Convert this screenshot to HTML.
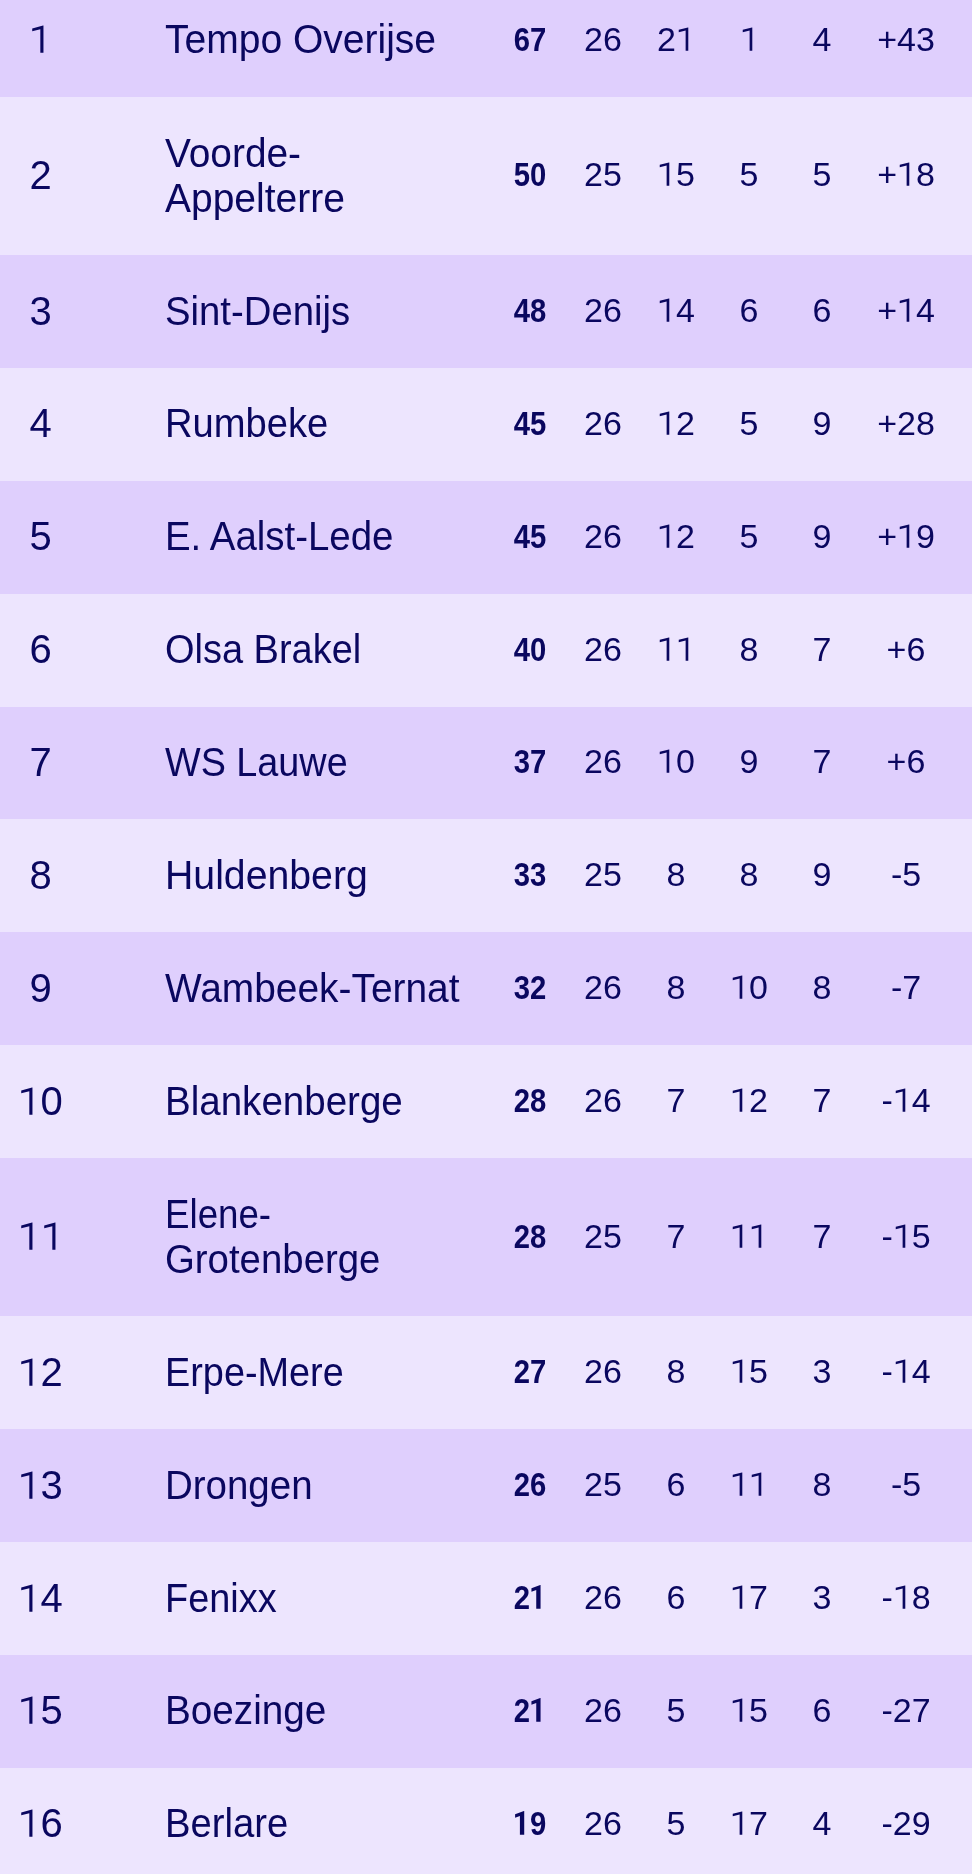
<!DOCTYPE html>
<html><head><meta charset="utf-8"><style>
html,body{margin:0;padding:0;}
body{width:972px;height:1874px;overflow:hidden;position:relative;background:#ede5fe;font-family:"Liberation Sans",sans-serif;color:#0a075f;}
.r{position:absolute;left:0;width:972px;}
.d{background:#dfcffd;}
.l{background:#ede5fe;}
.t{position:absolute;white-space:nowrap;line-height:1;}
.rk{font-size:40px;width:100px;text-align:center;}
.nm{font-size:40px;transform-origin:0 0;}
.n{font-size:34px;width:80px;text-align:center;}
.b{font-weight:bold;transform:scaleX(0.86);}
.o{position:relative;color:transparent;}
#tx{position:absolute;left:0;top:0;width:972px;height:1874px;will-change:transform;}
.os{position:absolute;left:0;top:0;width:100%;height:100%;fill:#0a075f;overflow:visible;}
</style></head><body>

<div class="r d" style="top:-15.98px;height:112.88px"></div>
<div class="r l" style="top:96.90px;height:158.20px"></div>
<div class="r d" style="top:255.10px;height:112.88px"></div>
<div class="r l" style="top:367.98px;height:112.88px"></div>
<div class="r d" style="top:480.86px;height:112.88px"></div>
<div class="r l" style="top:593.74px;height:112.88px"></div>
<div class="r d" style="top:706.62px;height:112.88px"></div>
<div class="r l" style="top:819.50px;height:112.88px"></div>
<div class="r d" style="top:932.38px;height:112.88px"></div>
<div class="r l" style="top:1045.26px;height:112.88px"></div>
<div class="r d" style="top:1158.14px;height:158.20px"></div>
<div class="r l" style="top:1316.34px;height:112.88px"></div>
<div class="r d" style="top:1429.22px;height:112.88px"></div>
<div class="r l" style="top:1542.10px;height:112.88px"></div>
<div class="r d" style="top:1654.98px;height:112.88px"></div>
<div class="r l" style="top:1767.86px;height:112.88px"></div>
<div id="tx">
<div class="t rk" style="left:-9.50px;top:19.48px"><span class="o">1<svg class="os" viewBox="0 0 1139 2288" preserveAspectRatio="none"><path d="M740,1853.4L580,1853.4L580,632.4L165,744.4L165,594.4L720,444.4L740,444.4Z"/></svg></span></div>
<div class="t nm" style="left:165.00px;top:19.48px;transform:scaleX(0.9754)">Tempo Overijse</div>
<div class="t n b" style="left:490.00px;top:21.85px;width:80px">67</div>
<div class="t n" style="left:563.00px;top:21.85px;width:80px">26</div>
<div class="t n" style="left:636.00px;top:21.85px;width:80px">2<span class="o">1<svg class="os" viewBox="0 0 1139 2288" preserveAspectRatio="none"><path d="M740,1853.4L580,1853.4L580,632.4L165,744.4L165,594.4L720,444.4L740,444.4Z"/></svg></span></div>
<div class="t n" style="left:709.00px;top:21.85px;width:80px"><span class="o">1<svg class="os" viewBox="0 0 1139 2288" preserveAspectRatio="none"><path d="M740,1853.4L580,1853.4L580,632.4L165,744.4L165,594.4L720,444.4L740,444.4Z"/></svg></span></div>
<div class="t n" style="left:782.00px;top:21.85px;width:80px">4</div>
<div class="t n" style="left:846.00px;top:21.85px;width:120px">+43</div>
<div class="t rk" style="left:-9.50px;top:155.02px">2</div>
<div class="t nm" style="left:165.00px;top:132.52px;transform:scaleX(0.971)">Voorde-</div>
<div class="t nm" style="left:165.00px;top:177.52px;transform:scaleX(0.9743)">Appelterre</div>
<div class="t n b" style="left:490.00px;top:157.39px;width:80px">50</div>
<div class="t n" style="left:563.00px;top:157.39px;width:80px">25</div>
<div class="t n" style="left:636.00px;top:157.39px;width:80px"><span class="o">1<svg class="os" viewBox="0 0 1139 2288" preserveAspectRatio="none"><path d="M740,1853.4L580,1853.4L580,632.4L165,744.4L165,594.4L720,444.4L740,444.4Z"/></svg></span>5</div>
<div class="t n" style="left:709.00px;top:157.39px;width:80px">5</div>
<div class="t n" style="left:782.00px;top:157.39px;width:80px">5</div>
<div class="t n" style="left:846.00px;top:157.39px;width:120px">+<span class="o">1<svg class="os" viewBox="0 0 1139 2288" preserveAspectRatio="none"><path d="M740,1853.4L580,1853.4L580,632.4L165,744.4L165,594.4L720,444.4L740,444.4Z"/></svg></span>8</div>
<div class="t rk" style="left:-9.50px;top:290.56px">3</div>
<div class="t nm" style="left:165.00px;top:290.56px;transform:scaleX(0.9573)">Sint-Denijs</div>
<div class="t n b" style="left:490.00px;top:292.93px;width:80px">48</div>
<div class="t n" style="left:563.00px;top:292.93px;width:80px">26</div>
<div class="t n" style="left:636.00px;top:292.93px;width:80px"><span class="o">1<svg class="os" viewBox="0 0 1139 2288" preserveAspectRatio="none"><path d="M740,1853.4L580,1853.4L580,632.4L165,744.4L165,594.4L720,444.4L740,444.4Z"/></svg></span>4</div>
<div class="t n" style="left:709.00px;top:292.93px;width:80px">6</div>
<div class="t n" style="left:782.00px;top:292.93px;width:80px">6</div>
<div class="t n" style="left:846.00px;top:292.93px;width:120px">+<span class="o">1<svg class="os" viewBox="0 0 1139 2288" preserveAspectRatio="none"><path d="M740,1853.4L580,1853.4L580,632.4L165,744.4L165,594.4L720,444.4L740,444.4Z"/></svg></span>4</div>
<div class="t rk" style="left:-9.50px;top:403.44px">4</div>
<div class="t nm" style="left:165.00px;top:403.44px;transform:scaleX(0.9541)">Rumbeke</div>
<div class="t n b" style="left:490.00px;top:405.81px;width:80px">45</div>
<div class="t n" style="left:563.00px;top:405.81px;width:80px">26</div>
<div class="t n" style="left:636.00px;top:405.81px;width:80px"><span class="o">1<svg class="os" viewBox="0 0 1139 2288" preserveAspectRatio="none"><path d="M740,1853.4L580,1853.4L580,632.4L165,744.4L165,594.4L720,444.4L740,444.4Z"/></svg></span>2</div>
<div class="t n" style="left:709.00px;top:405.81px;width:80px">5</div>
<div class="t n" style="left:782.00px;top:405.81px;width:80px">9</div>
<div class="t n" style="left:846.00px;top:405.81px;width:120px">+28</div>
<div class="t rk" style="left:-9.50px;top:516.32px">5</div>
<div class="t nm" style="left:165.00px;top:516.32px;transform:scaleX(0.9597)">E. Aalst-Lede</div>
<div class="t n b" style="left:490.00px;top:518.69px;width:80px">45</div>
<div class="t n" style="left:563.00px;top:518.69px;width:80px">26</div>
<div class="t n" style="left:636.00px;top:518.69px;width:80px"><span class="o">1<svg class="os" viewBox="0 0 1139 2288" preserveAspectRatio="none"><path d="M740,1853.4L580,1853.4L580,632.4L165,744.4L165,594.4L720,444.4L740,444.4Z"/></svg></span>2</div>
<div class="t n" style="left:709.00px;top:518.69px;width:80px">5</div>
<div class="t n" style="left:782.00px;top:518.69px;width:80px">9</div>
<div class="t n" style="left:846.00px;top:518.69px;width:120px">+<span class="o">1<svg class="os" viewBox="0 0 1139 2288" preserveAspectRatio="none"><path d="M740,1853.4L580,1853.4L580,632.4L165,744.4L165,594.4L720,444.4L740,444.4Z"/></svg></span>9</div>
<div class="t rk" style="left:-9.50px;top:629.20px">6</div>
<div class="t nm" style="left:165.00px;top:629.20px;transform:scaleX(0.949)">Olsa Brakel</div>
<div class="t n b" style="left:490.00px;top:631.57px;width:80px">40</div>
<div class="t n" style="left:563.00px;top:631.57px;width:80px">26</div>
<div class="t n" style="left:636.00px;top:631.57px;width:80px"><span class="o">1<svg class="os" viewBox="0 0 1139 2288" preserveAspectRatio="none"><path d="M740,1853.4L580,1853.4L580,632.4L165,744.4L165,594.4L720,444.4L740,444.4Z"/></svg></span><span class="o">1<svg class="os" viewBox="0 0 1139 2288" preserveAspectRatio="none"><path d="M740,1853.4L580,1853.4L580,632.4L165,744.4L165,594.4L720,444.4L740,444.4Z"/></svg></span></div>
<div class="t n" style="left:709.00px;top:631.57px;width:80px">8</div>
<div class="t n" style="left:782.00px;top:631.57px;width:80px">7</div>
<div class="t n" style="left:846.00px;top:631.57px;width:120px">+6</div>
<div class="t rk" style="left:-9.50px;top:742.08px">7</div>
<div class="t nm" style="left:165.00px;top:742.08px;transform:scaleX(0.9443)">WS Lauwe</div>
<div class="t n b" style="left:490.00px;top:744.45px;width:80px">37</div>
<div class="t n" style="left:563.00px;top:744.45px;width:80px">26</div>
<div class="t n" style="left:636.00px;top:744.45px;width:80px"><span class="o">1<svg class="os" viewBox="0 0 1139 2288" preserveAspectRatio="none"><path d="M740,1853.4L580,1853.4L580,632.4L165,744.4L165,594.4L720,444.4L740,444.4Z"/></svg></span>0</div>
<div class="t n" style="left:709.00px;top:744.45px;width:80px">9</div>
<div class="t n" style="left:782.00px;top:744.45px;width:80px">7</div>
<div class="t n" style="left:846.00px;top:744.45px;width:120px">+6</div>
<div class="t rk" style="left:-9.50px;top:854.96px">8</div>
<div class="t nm" style="left:165.00px;top:854.96px;transform:scaleX(0.9804)">Huldenberg</div>
<div class="t n b" style="left:490.00px;top:857.33px;width:80px">33</div>
<div class="t n" style="left:563.00px;top:857.33px;width:80px">25</div>
<div class="t n" style="left:636.00px;top:857.33px;width:80px">8</div>
<div class="t n" style="left:709.00px;top:857.33px;width:80px">8</div>
<div class="t n" style="left:782.00px;top:857.33px;width:80px">9</div>
<div class="t n" style="left:846.00px;top:857.33px;width:120px">-5</div>
<div class="t rk" style="left:-9.50px;top:967.84px">9</div>
<div class="t nm" style="left:165.00px;top:967.84px;transform:scaleX(0.9716)">Wambeek-Ternat</div>
<div class="t n b" style="left:490.00px;top:970.21px;width:80px">32</div>
<div class="t n" style="left:563.00px;top:970.21px;width:80px">26</div>
<div class="t n" style="left:636.00px;top:970.21px;width:80px">8</div>
<div class="t n" style="left:709.00px;top:970.21px;width:80px"><span class="o">1<svg class="os" viewBox="0 0 1139 2288" preserveAspectRatio="none"><path d="M740,1853.4L580,1853.4L580,632.4L165,744.4L165,594.4L720,444.4L740,444.4Z"/></svg></span>0</div>
<div class="t n" style="left:782.00px;top:970.21px;width:80px">8</div>
<div class="t n" style="left:846.00px;top:970.21px;width:120px">-7</div>
<div class="t rk" style="left:-9.50px;top:1080.72px"><span class="o">1<svg class="os" viewBox="0 0 1139 2288" preserveAspectRatio="none"><path d="M740,1853.4L580,1853.4L580,632.4L165,744.4L165,594.4L720,444.4L740,444.4Z"/></svg></span>0</div>
<div class="t nm" style="left:165.00px;top:1080.72px;transform:scaleX(0.9633)">Blankenberge</div>
<div class="t n b" style="left:490.00px;top:1083.09px;width:80px">28</div>
<div class="t n" style="left:563.00px;top:1083.09px;width:80px">26</div>
<div class="t n" style="left:636.00px;top:1083.09px;width:80px">7</div>
<div class="t n" style="left:709.00px;top:1083.09px;width:80px"><span class="o">1<svg class="os" viewBox="0 0 1139 2288" preserveAspectRatio="none"><path d="M740,1853.4L580,1853.4L580,632.4L165,744.4L165,594.4L720,444.4L740,444.4Z"/></svg></span>2</div>
<div class="t n" style="left:782.00px;top:1083.09px;width:80px">7</div>
<div class="t n" style="left:846.00px;top:1083.09px;width:120px">-<span class="o">1<svg class="os" viewBox="0 0 1139 2288" preserveAspectRatio="none"><path d="M740,1853.4L580,1853.4L580,632.4L165,744.4L165,594.4L720,444.4L740,444.4Z"/></svg></span>4</div>
<div class="t rk" style="left:-9.50px;top:1216.26px"><span class="o">1<svg class="os" viewBox="0 0 1139 2288" preserveAspectRatio="none"><path d="M740,1853.4L580,1853.4L580,632.4L165,744.4L165,594.4L720,444.4L740,444.4Z"/></svg></span><span class="o">1<svg class="os" viewBox="0 0 1139 2288" preserveAspectRatio="none"><path d="M740,1853.4L580,1853.4L580,632.4L165,744.4L165,594.4L720,444.4L740,444.4Z"/></svg></span></div>
<div class="t nm" style="left:165.00px;top:1193.76px;transform:scaleX(0.9175)">Elene-</div>
<div class="t nm" style="left:165.00px;top:1238.76px;transform:scaleX(0.9592)">Grotenberge</div>
<div class="t n b" style="left:490.00px;top:1218.63px;width:80px">28</div>
<div class="t n" style="left:563.00px;top:1218.63px;width:80px">25</div>
<div class="t n" style="left:636.00px;top:1218.63px;width:80px">7</div>
<div class="t n" style="left:709.00px;top:1218.63px;width:80px"><span class="o">1<svg class="os" viewBox="0 0 1139 2288" preserveAspectRatio="none"><path d="M740,1853.4L580,1853.4L580,632.4L165,744.4L165,594.4L720,444.4L740,444.4Z"/></svg></span><span class="o">1<svg class="os" viewBox="0 0 1139 2288" preserveAspectRatio="none"><path d="M740,1853.4L580,1853.4L580,632.4L165,744.4L165,594.4L720,444.4L740,444.4Z"/></svg></span></div>
<div class="t n" style="left:782.00px;top:1218.63px;width:80px">7</div>
<div class="t n" style="left:846.00px;top:1218.63px;width:120px">-<span class="o">1<svg class="os" viewBox="0 0 1139 2288" preserveAspectRatio="none"><path d="M740,1853.4L580,1853.4L580,632.4L165,744.4L165,594.4L720,444.4L740,444.4Z"/></svg></span>5</div>
<div class="t rk" style="left:-9.50px;top:1351.80px"><span class="o">1<svg class="os" viewBox="0 0 1139 2288" preserveAspectRatio="none"><path d="M740,1853.4L580,1853.4L580,632.4L165,744.4L165,594.4L720,444.4L740,444.4Z"/></svg></span>2</div>
<div class="t nm" style="left:165.00px;top:1351.80px;transform:scaleX(0.946)">Erpe-Mere</div>
<div class="t n b" style="left:490.00px;top:1354.17px;width:80px">27</div>
<div class="t n" style="left:563.00px;top:1354.17px;width:80px">26</div>
<div class="t n" style="left:636.00px;top:1354.17px;width:80px">8</div>
<div class="t n" style="left:709.00px;top:1354.17px;width:80px"><span class="o">1<svg class="os" viewBox="0 0 1139 2288" preserveAspectRatio="none"><path d="M740,1853.4L580,1853.4L580,632.4L165,744.4L165,594.4L720,444.4L740,444.4Z"/></svg></span>5</div>
<div class="t n" style="left:782.00px;top:1354.17px;width:80px">3</div>
<div class="t n" style="left:846.00px;top:1354.17px;width:120px">-<span class="o">1<svg class="os" viewBox="0 0 1139 2288" preserveAspectRatio="none"><path d="M740,1853.4L580,1853.4L580,632.4L165,744.4L165,594.4L720,444.4L740,444.4Z"/></svg></span>4</div>
<div class="t rk" style="left:-9.50px;top:1464.68px"><span class="o">1<svg class="os" viewBox="0 0 1139 2288" preserveAspectRatio="none"><path d="M740,1853.4L580,1853.4L580,632.4L165,744.4L165,594.4L720,444.4L740,444.4Z"/></svg></span>3</div>
<div class="t nm" style="left:165.00px;top:1464.68px;transform:scaleX(0.9616)">Drongen</div>
<div class="t n b" style="left:490.00px;top:1467.05px;width:80px">26</div>
<div class="t n" style="left:563.00px;top:1467.05px;width:80px">25</div>
<div class="t n" style="left:636.00px;top:1467.05px;width:80px">6</div>
<div class="t n" style="left:709.00px;top:1467.05px;width:80px"><span class="o">1<svg class="os" viewBox="0 0 1139 2288" preserveAspectRatio="none"><path d="M740,1853.4L580,1853.4L580,632.4L165,744.4L165,594.4L720,444.4L740,444.4Z"/></svg></span><span class="o">1<svg class="os" viewBox="0 0 1139 2288" preserveAspectRatio="none"><path d="M740,1853.4L580,1853.4L580,632.4L165,744.4L165,594.4L720,444.4L740,444.4Z"/></svg></span></div>
<div class="t n" style="left:782.00px;top:1467.05px;width:80px">8</div>
<div class="t n" style="left:846.00px;top:1467.05px;width:120px">-5</div>
<div class="t rk" style="left:-9.50px;top:1577.56px"><span class="o">1<svg class="os" viewBox="0 0 1139 2288" preserveAspectRatio="none"><path d="M740,1853.4L580,1853.4L580,632.4L165,744.4L165,594.4L720,444.4L740,444.4Z"/></svg></span>4</div>
<div class="t nm" style="left:165.00px;top:1577.56px;transform:scaleX(0.947)">Fenixx</div>
<div class="t n b" style="left:490.00px;top:1579.93px;width:80px">2<span class="o">1<svg class="os" viewBox="0 0 1139 2288" preserveAspectRatio="none"><path d="M739,1853.4L437,1853.4L437,719.4L101,820.4L101,616.4L715,423.4L739,423.4Z"/></svg></span></div>
<div class="t n" style="left:563.00px;top:1579.93px;width:80px">26</div>
<div class="t n" style="left:636.00px;top:1579.93px;width:80px">6</div>
<div class="t n" style="left:709.00px;top:1579.93px;width:80px"><span class="o">1<svg class="os" viewBox="0 0 1139 2288" preserveAspectRatio="none"><path d="M740,1853.4L580,1853.4L580,632.4L165,744.4L165,594.4L720,444.4L740,444.4Z"/></svg></span>7</div>
<div class="t n" style="left:782.00px;top:1579.93px;width:80px">3</div>
<div class="t n" style="left:846.00px;top:1579.93px;width:120px">-<span class="o">1<svg class="os" viewBox="0 0 1139 2288" preserveAspectRatio="none"><path d="M740,1853.4L580,1853.4L580,632.4L165,744.4L165,594.4L720,444.4L740,444.4Z"/></svg></span>8</div>
<div class="t rk" style="left:-9.50px;top:1690.44px"><span class="o">1<svg class="os" viewBox="0 0 1139 2288" preserveAspectRatio="none"><path d="M740,1853.4L580,1853.4L580,632.4L165,744.4L165,594.4L720,444.4L740,444.4Z"/></svg></span>5</div>
<div class="t nm" style="left:165.00px;top:1690.44px;transform:scaleX(0.9667)">Boezinge</div>
<div class="t n b" style="left:490.00px;top:1692.81px;width:80px">2<span class="o">1<svg class="os" viewBox="0 0 1139 2288" preserveAspectRatio="none"><path d="M739,1853.4L437,1853.4L437,719.4L101,820.4L101,616.4L715,423.4L739,423.4Z"/></svg></span></div>
<div class="t n" style="left:563.00px;top:1692.81px;width:80px">26</div>
<div class="t n" style="left:636.00px;top:1692.81px;width:80px">5</div>
<div class="t n" style="left:709.00px;top:1692.81px;width:80px"><span class="o">1<svg class="os" viewBox="0 0 1139 2288" preserveAspectRatio="none"><path d="M740,1853.4L580,1853.4L580,632.4L165,744.4L165,594.4L720,444.4L740,444.4Z"/></svg></span>5</div>
<div class="t n" style="left:782.00px;top:1692.81px;width:80px">6</div>
<div class="t n" style="left:846.00px;top:1692.81px;width:120px">-27</div>
<div class="t rk" style="left:-9.50px;top:1803.32px"><span class="o">1<svg class="os" viewBox="0 0 1139 2288" preserveAspectRatio="none"><path d="M740,1853.4L580,1853.4L580,632.4L165,744.4L165,594.4L720,444.4L740,444.4Z"/></svg></span>6</div>
<div class="t nm" style="left:165.00px;top:1803.32px;transform:scaleX(0.9559)">Berlare</div>
<div class="t n b" style="left:490.00px;top:1805.69px;width:80px"><span class="o">1<svg class="os" viewBox="0 0 1139 2288" preserveAspectRatio="none"><path d="M739,1853.4L437,1853.4L437,719.4L101,820.4L101,616.4L715,423.4L739,423.4Z"/></svg></span>9</div>
<div class="t n" style="left:563.00px;top:1805.69px;width:80px">26</div>
<div class="t n" style="left:636.00px;top:1805.69px;width:80px">5</div>
<div class="t n" style="left:709.00px;top:1805.69px;width:80px"><span class="o">1<svg class="os" viewBox="0 0 1139 2288" preserveAspectRatio="none"><path d="M740,1853.4L580,1853.4L580,632.4L165,744.4L165,594.4L720,444.4L740,444.4Z"/></svg></span>7</div>
<div class="t n" style="left:782.00px;top:1805.69px;width:80px">4</div>
<div class="t n" style="left:846.00px;top:1805.69px;width:120px">-29</div>
</div>
</body></html>
